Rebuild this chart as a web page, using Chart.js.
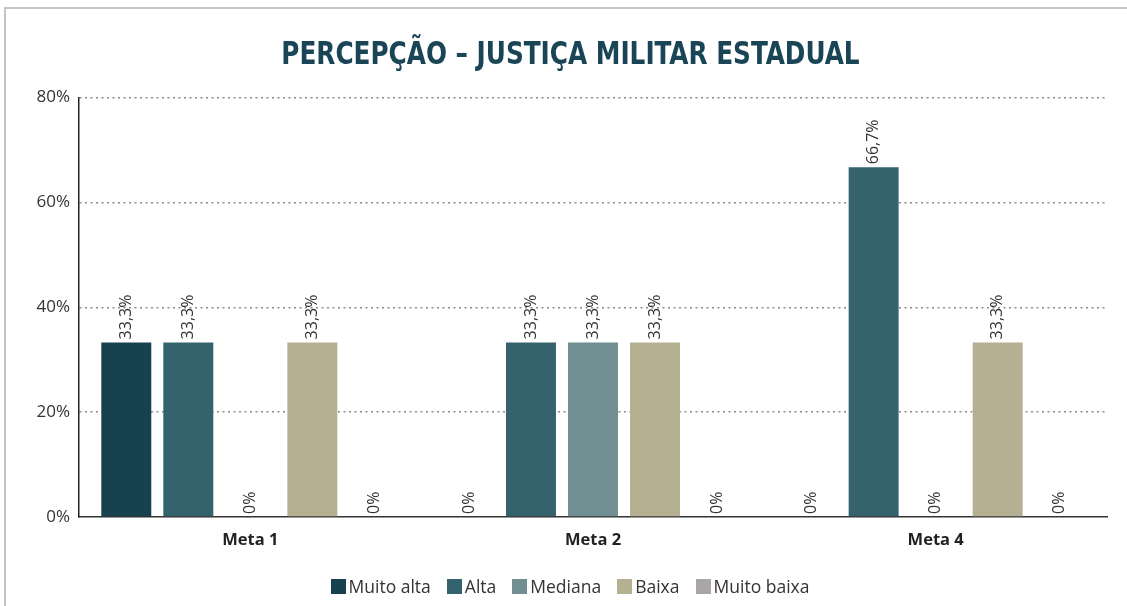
<!DOCTYPE html>
<html>
<head>
<meta charset="utf-8">
<script src="https://cdn.jsdelivr.net/npm/chart.js@4"></script>
<style>
  html, body { margin: 0; padding: 0; background: #fff; }
  #wrap { position: relative; width: 1127px; height: 606px; overflow: hidden; }
  #frame { position: absolute; left: 4px; top: 7px; width: 1200px; height: 700px;
           border-top: 2px solid #c4c4c4; border-left: 2px solid #c4c4c4; }
  #myChart { position: absolute; left: 0; top: 0; }
  #titulo { position: absolute; left: 0; top: 37px; width: 1141px; text-align: center;
            font-family: "DejaVu Sans Condensed", "DejaVu Sans", sans-serif; font-weight: bold;
            font-size: 32px; line-height: 32px; color: #1a4556;
            transform: scaleX(0.86); transform-origin: 570px 0; white-space: nowrap; }
  #legend { position: absolute; left: 0; top: 574px; width: 1140px; display: flex;
            justify-content: center; font-family: "Open Sans", sans-serif; font-size: 17.5px; color: #333; }
  #legend .item { display: flex; align-items: center; margin: 0 8px; }
  #legend .box { width: 15px; height: 15px; margin-right: 3px; }
</style>
</head>
<body>
<div id="wrap">
  <div id="frame"></div>
  <canvas id="myChart" width="1127" height="606"></canvas>
  <div id="titulo">PERCEPÇÃO – JUSTIÇA MILITAR ESTADUAL</div>
  <div id="legend"></div>
</div>
<script>
var metas = ["Meta 1", "Meta 2", "Meta 4"];
var niveis = ["Muito alta", "Alta", "Mediana", "Baixa", "Muito baixa"];
var cores = ["#17414f", "#34636e", "#718f92", "#b6b092", "#aaa6a6"];
// percentual por nível, na ordem das metas
var muitoAlta = [33.3, 0, 0];
var alta = [33.3, 33.3, 66.7];
var mediana = [0, 33.3, 0];
var baixa = [33.3, 33.3, 33.3];
var muitoBaixa = [0, 0, 0];
var yTicks = [0, 20, 40, 60, 80];

var series = [muitoAlta, alta, mediana, baixa, muitoBaixa];

function fmt(v) {
  if (v === 0) return "0%";
  return v.toFixed(1).replace(".", ",") + "%";
}

// valores escritos em pé em cima de cada barra
var barLabels = {
  id: "barLabels",
  afterDraw: function (chart) {
    var ctx = chart.ctx;
    ctx.save();
    ctx.font = "16px 'Open Sans', sans-serif";
    ctx.fillStyle = "#333";
    ctx.textAlign = "left";
    ctx.textBaseline = "middle";
    chart.data.datasets.forEach(function (ds, i) {
      chart.getDatasetMeta(i).data.forEach(function (bar, j) {
        ctx.save();
        ctx.translate(bar.x, bar.y - 3);
        ctx.rotate(-Math.PI / 2);
        ctx.fillText(fmt(ds.data[j]), 0, 0);
        ctx.restore();
      });
    });
    ctx.restore();
  }
};

var ctx = document.getElementById("myChart");
var myChart = new Chart(ctx, {
  type: "bar",
  data: {
    labels: metas,
    datasets: niveis.map(function (nome, i) {
      return {
        label: nome,
        data: series[i],
        backgroundColor: cores[i],
        categoryPercentage: 0.905,
        barPercentage: 0.806,
      };
    }),
  },
  options: {
    responsive: false,
    animation: false,
    layout: { padding: { left: 0, right: 20, top: 97.5, bottom: 0 } },
    plugins: {
      legend: { display: false },
      tooltip: { enabled: false },
    },
    scales: {
      x: {
        z: 1,
        grid: { display: false },
        border: { display: true, color: "#333", width: 1.5 },
        ticks: {
          color: "#222",
          padding: 5,
          font: { family: "'Open Sans', sans-serif", size: 16.5, weight: "bold" },
        },
        afterFit: function (scale) { scale.height = 89; },
      },
      y: {
        z: 1,
        min: 0,
        max: 80,
        afterBuildTicks: function (scale) {
          scale.ticks = yTicks.map(function (v) { return { value: v }; });
        },
        grid: {
          color: function (c) { return c.tick && c.tick.value === 0 ? "rgba(0,0,0,0)" : "#8c8c8c"; },
          lineWidth: 1.5,
          drawTicks: false,
        },
        border: { display: true, color: "#222", width: 1.5, dash: [2, 3.5] },
        ticks: {
          color: "#333",
          padding: 9,
          font: { family: "'Open Sans', sans-serif", size: 17 },
          callback: function (v) { return v + "%"; },
        },
        afterFit: function (scale) { scale.width = 79; },
      },
    },
  },
  plugins: [barLabels],
});

// legenda montada a partir dos datasets
var legend = document.getElementById("legend");
myChart.data.datasets.forEach(function (ds) {
  var item = document.createElement("div");
  item.className = "item";
  var box = document.createElement("span");
  box.className = "box";
  box.style.background = ds.backgroundColor;
  var txt = document.createElement("span");
  txt.textContent = ds.label;
  item.appendChild(box);
  item.appendChild(txt);
  legend.appendChild(item);
});
</script>
</body>
</html>
